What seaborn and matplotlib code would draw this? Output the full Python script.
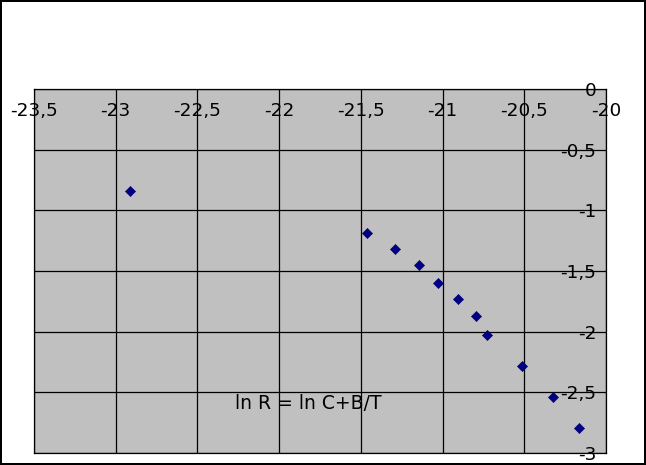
import numpy as np
import pandas as pd
import matplotlib
matplotlib.use("Agg")
import matplotlib.pyplot as plt
import seaborn as sns

x_werte = [-22.91, -21.46, -21.29, -21.146, -21.026, -20.903, -20.797, -20.728, -20.512, -20.322, -20.167]
y_werte = [-0.841, -1.187, -1.319, -1.453, -1.597, -1.734, -1.874, -2.028, -2.284, -2.542, -2.797]

x_ticks = [-23.5, -23, -22.5, -22, -21.5, -21, -20.5, -20]
y_ticks = [0, -0.5, -1, -1.5, -2, -2.5, -3]
formel = "ln R = ln C+B/T"


def fmt(v):
    return f"{v:g}".replace(".", ",")


def main():
    sns.set_theme(style="white")
    plt.rcParams["font.family"] = ["DejaVu Sans"]

    df = pd.DataFrame({"x": x_werte, "y": y_werte})

    fig = plt.figure(figsize=(6.46, 4.65), dpi=100)
    fig.patch.set_facecolor("white")
    fig.patch.set_edgecolor("black")
    fig.patch.set_linewidth(1.5)
    ax = fig.add_axes([34 / 646, 12 / 465, 572 / 646, 364 / 465])
    ax.set_facecolor("#c0c0c0")

    sns.scatterplot(data=df, x="x", y="y", ax=ax, marker="D", color="#000080",
                    s=26, edgecolor="#000080", linewidth=0.5, zorder=3)

    ax.set_xlim(-23.5, -20)
    ax.set_ylim(-3, 0)
    ax.set_xticks(x_ticks)
    ax.set_yticks(y_ticks)
    ax.set_xticklabels([fmt(v) for v in x_ticks])
    ax.set_yticklabels([fmt(v) for v in y_ticks])
    ax.grid(True, color="black", linewidth=0.9)
    ax.set_axisbelow(True)
    for sp in ax.spines.values():
        sp.set_color("black")
        sp.set_linewidth(0.9)

    ax.tick_params(axis="x", which="both", length=0, labelsize=13.3, labelcolor="black",
                   labelbottom=False, labeltop=True, pad=-15.5)
    ax.tick_params(axis="y", which="both", length=0, labelsize=13.3, labelcolor="black",
                   labelleft=False, labelright=True, pad=-7)
    for t in ax.xaxis.get_major_ticks():
        t.label2.set_va("center")
    for t in ax.yaxis.get_major_ticks():
        t.label2.set_ha("right")

    ax.set_xlabel("")
    ax.set_ylabel("")
    # Formel liegt unter dem Gitter
    ax.text(-21.82, -2.591, formel, ha="center", va="center", fontsize=13.5,
            color="black", zorder=0.4)

    fig.savefig("out.png", dpi=100, facecolor=fig.get_facecolor(), edgecolor=fig.get_edgecolor())
    plt.close(fig)


if __name__ == "__main__":
    main()
